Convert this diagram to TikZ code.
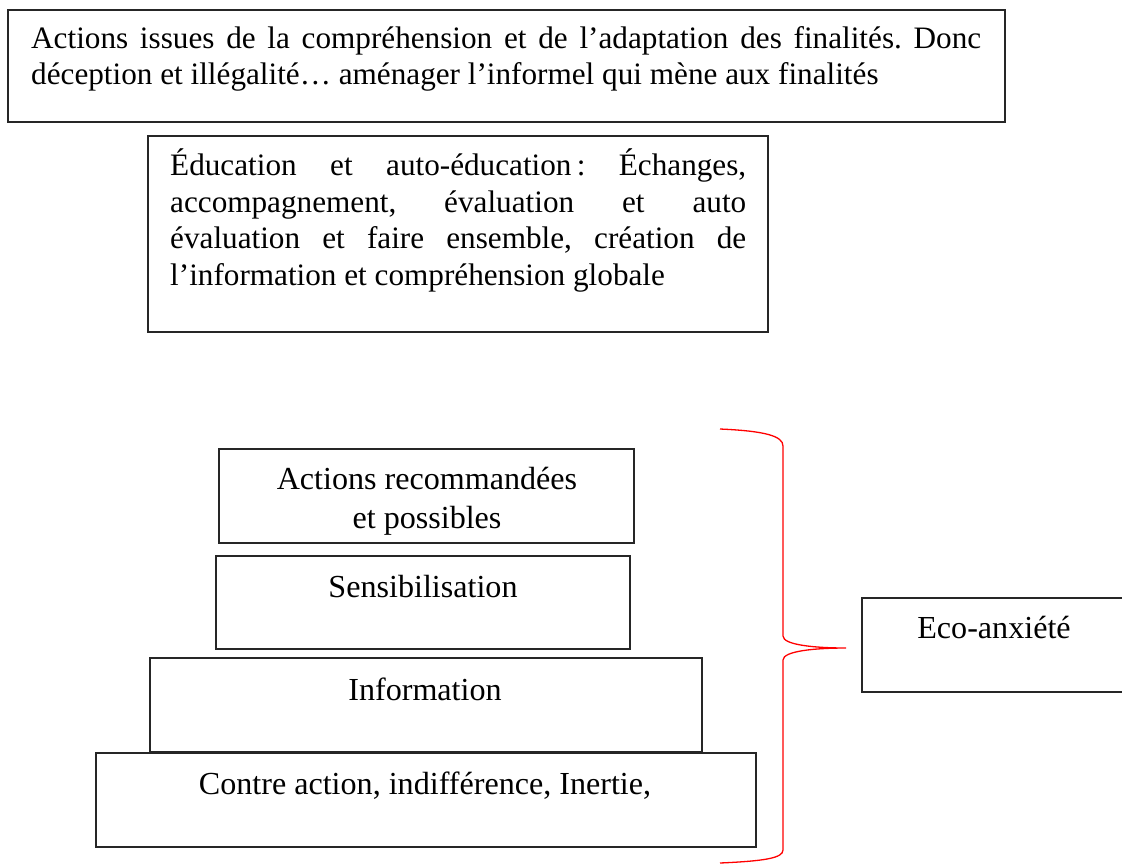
\documentclass[tikz,border=0pt]{standalone}
\usepackage{fontspec}
\setmainfont{Liberation Serif}
\frenchspacing
\begin{document}
\begin{tikzpicture}[x=1pt,y=-1pt,
  box/.style={draw=black!85, line width=1.3pt, anchor=north west, inner sep=0pt, outer sep=0pt},
  txt/.style={font=\fontsize{31.2}{36.5}\selectfont, inner sep=0pt},
  ptxt/.style={font=\fontsize{32.1}{37}\selectfont, inner sep=0pt, anchor=base},
  brace/.style={draw=red, line width=1.3pt}]
\useasboundingbox (0,0) rectangle (1122,863);
% top box
\node[box, minimum width=997pt, minimum height=112pt] (top) at (8,10) {};
\node[txt, anchor=base west] (t1) at (31,48) {\makebox[950pt][s]{Actions issues de la compréhension et de l’adaptation des finalités. Donc}};
\node[txt, anchor=base west] (t2) at (31,84) {déception et illégalité… aménager l’informel qui mène aux finalités};
% education box
\node[box, minimum width=620pt, minimum height=196pt] (edu) at (148,136) {};
\node[txt, anchor=base west] (e1) at (170,175) {\makebox[576pt][s]{Éducation et auto-éducation\,: Échanges,}};
\node[txt, anchor=base west] (e2) at (170,212) {\makebox[576pt][s]{accompagnement, évaluation et auto}};
\node[txt, anchor=base west] (e3) at (170,248) {\makebox[576pt][s]{évaluation et faire ensemble, création de}};
\node[txt, anchor=base west] (e4) at (170,285) {l’information et compréhension globale};
% pyramid
\node[box, minimum width=415pt, minimum height=94pt] (p1) at (219,449) {};
\node[ptxt] (p1a) at (427,489) {Actions recommandées};
\node[ptxt] (p1b) at (427,528) {et possibles};
\node[box, minimum width=414pt, minimum height=93pt] (p2) at (216,556) {};
\node[ptxt] (p2a) at (423,597) {Sensibilisation};
\node[box, minimum width=552pt, minimum height=94pt] (p3) at (150,658) {};
\node[ptxt] (p3a) at (425,700) {Information};
\node[box, minimum width=660pt, minimum height=94pt] (p4) at (96,753) {};
\node[ptxt] (p4a) at (425,794) {Contre action, indifférence, Inertie,};
% eco box
\node[box, minimum width=270pt, minimum height=94pt] (eco) at (862,598) {};
\node[ptxt] (ecoa) at (994,638) {Eco-anxiété};
% brace
\coordinate (bt) at (720,429);
\coordinate (btip) at (846,648);
\coordinate (bb) at (720,863);
\draw[brace] (bt) .. controls (765,431) and (783,436) .. (783,446)
  -- (783,636) .. controls (783,645) and (815,648) .. (btip)
  .. controls (815,648) and (783,651) .. (783,660)
  -- (783,850) .. controls (783,858) and (765,861) .. (bb);
\end{tikzpicture}
\end{document}
